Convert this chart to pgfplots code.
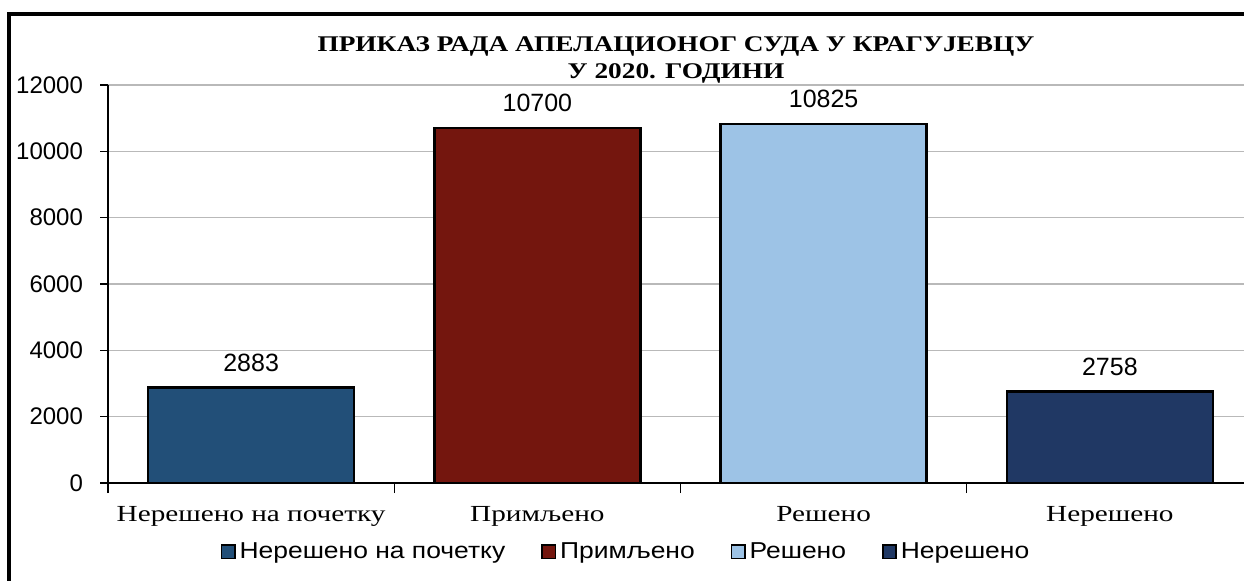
\documentclass[border=0pt]{standalone}
\usepackage{fontspec}
\setmainfont{Liberation Serif}
\newfontfamily\arial{Liberation Sans}
\newfontfamily\arialw[FakeStretch=1.15]{Liberation Sans}
\newfontfamily\serifw[FakeStretch=1.27]{Liberation Serif}
\newfontfamily\titlew[FakeStretch=1.22]{Liberation Serif}
\usepackage{pgfplots}
\pgfplotsset{compat=1.18}
\definecolor{c1}{HTML}{224F78}
\definecolor{c2}{HTML}{74160E}
\definecolor{c3}{HTML}{9DC3E6}
\definecolor{c4}{HTML}{203864}
\begin{document}
\begin{tikzpicture}
\clip (0pt,0pt) rectangle (622pt,290pt);
\path[use as bounding box] (0pt,0pt) rectangle (622pt,290pt);
\draw[line width=2pt] (4.5pt,-2pt) -- (4.5pt,283pt) -- (630pt,283pt);
\node[font=\titlew\bfseries\fontsize{11.2}{13.5}\selectfont, align=center] at (338pt,260pt) {ПРИКАЗ РАДА АПЕЛАЦИОНОГ СУДА У КРАГУЈЕВЦУ\\У 2020. ГОДИНИ};
\begin{axis}[
  at={(54pt,48.5pt)}, anchor=south west,
  width=572.5pt, height=199pt, scale only axis,
  xmin=-0.5, xmax=3.5, ymin=0, ymax=12000,
  axis x line*=bottom, axis y line*=left,
  axis line style={black, line width=0.8pt},
  ytick={0,2000,...,12000},
  scaled y ticks=false,
  ymajorgrids, grid style={gray!55, line width=0.7pt},
  /pgf/number format/assume math mode=true,
  /pgf/number format/1000 sep={},
  y tick label style={font=\arial\fontsize{12}{14}\selectfont, xshift=-5pt},
  tick align=outside, major tick length=4pt,
  tick style={black, line width=0.6pt},
  xtick={0,1,2,3},
  xticklabels={Нерешено на почетку, Примљено, Решено, Нерешено},
  x tick label style={font=\serifw\fontsize{11.5}{14}\selectfont, yshift=-4pt},
  major x tick style={draw=none},
  minor xtick={-0.5,0.5,1.5,2.5},
  minor tick length=5pt,
  minor x tick style={black, line width=0.6pt},
  nodes near coords,
  every node near coord/.append style={font=\arial\fontsize{12.5}{14}\selectfont, yshift=4pt},
  legend columns=4,
  legend style={at={(0.4533,-0.173)}, anchor=center, draw=none, font=\arialw\fontsize{11.5}{13}\selectfont,
    /tikz/every even column/.append style={column sep=16pt}},
  legend image code/.code={\draw[#1, draw=black, line width=0.8pt] (0pt,-3.3pt) rectangle (6.6pt,3.3pt);},
]
\addplot[ybar, bar width=103pt, bar shift=0pt, fill=c1, draw=black, line width=1.3pt] coordinates {(0,2883)};
\addlegendentry{Нерешено на почетку}
\addplot[ybar, bar width=103pt, bar shift=0pt, fill=c2, draw=black, line width=1.3pt] coordinates {(1,10700)};
\addlegendentry{Примљено}
\addplot[ybar, bar width=103pt, bar shift=0pt, fill=c3, draw=black, line width=1.3pt] coordinates {(2,10825)};
\addlegendentry{Решено}
\addplot[ybar, bar width=103pt, bar shift=0pt, fill=c4, draw=black, line width=1.3pt] coordinates {(3,2758)};
\addlegendentry{Нерешено}
\end{axis}
\end{tikzpicture}
\end{document}
